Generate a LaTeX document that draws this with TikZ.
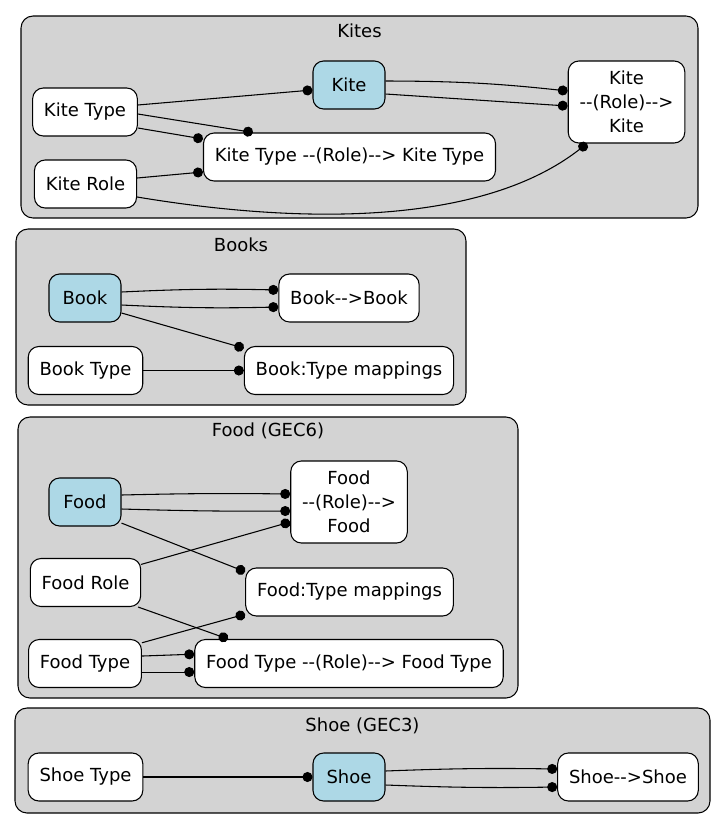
\documentclass[tikz,border=0pt]{standalone}
\usepackage{fontspec}
\newfontfamily\dvsans{DejaVu Sans}
\usepackage{xcolor}
\definecolor{Cluster}{HTML}{D3D3D3}
\definecolor{Entity}{HTML}{ADD8E6}
\usepackage{tikz}
\usetikzlibrary{arrows.meta,positioning}

\begin{document}
\begin{tikzpicture}[x=0.75pt,y=0.75pt,line width=0.8pt,
  every node/.style={font=\dvsans\fontsize{13.5}{18}\selectfont,align=center},
  cls/.style={draw,fill=Cluster,rounded corners=9pt},
  box/.style={draw,fill=white,rounded corners=8pt,minimum width=54pt,minimum height=36pt,inner xsep=8.5pt},
  ent/.style={box,fill=Entity},
  tall/.style={box,minimum height=61.5pt},
  lnk/.style={-{Circle[length=7.5pt]}}]
\useasboundingbox (0,0) rectangle (725,-829);
\draw[cls] (21,-16) rectangle (698,-218);
\draw[cls] (16,-229) rectangle (466,-405);
\draw[cls] (18,-417) rectangle (518,-698);
\draw[cls] (15,-708) rectangle (710,-813);
\node (lkites) at (359.5,-31) {Kites};
\node (lbooks) at (241,-245) {Books};
\node (lfood) at (268,-431) {Food (GEC6)};
\node (lshoe) at (362.5,-726) {Shoe (GEC3)};

\node[box] (kt) at (85,-112) {Kite Type};
\node[box] (kr) at (85.5,-184) {Kite Role};
\node[ent] (k) at (349,-85) {Kite};
\node[tall] (krk) at (626.5,-102) {Kite\\--(Role)-->\\Kite};
\node[box] (ktt) at (349.5,-157) {Kite Type --(Role)--> Kite Type};
\draw[lnk] ([yshift=5.25pt]kt.east) -- ([yshift=-3.75pt]k.west);
\draw[lnk] ([yshift=3pt]k.east) to[bend left=3] ([yshift=8.25pt]krk.west);
\draw[lnk] ([yshift=-6.75pt]k.east) -- ([yshift=-3pt]krk.west);
\draw[lnk] ([yshift=-1.5pt]kt.east) -- ([xshift=-72.4pt]ktt.north);
\draw[lnk] ([yshift=-12pt]kt.east) -- ([yshift=13.5pt]ktt.west);
\draw[lnk] ([yshift=4.5pt]kr.east) -- ([yshift=-11.25pt]ktt.west);
\draw[lnk] ([yshift=-9.75pt]kr.east) .. controls +(180,-30) and +(-100,-78) .. ([xshift=-29.6pt]krk.south);

\node[ent] (b) at (85,-298) {Book};
\node[box] (bb) at (349,-298) {Book-->Book};
\node[box] (bt) at (85.5,-370.5) {Book Type};
\node[box] (btm) at (349,-370.5) {Book:Type mappings};
\draw[lnk] ([yshift=4.5pt]b.east) to[bend left=2] ([yshift=6pt]bb.west);
\draw[lnk] ([yshift=-5.25pt]b.east) to[bend right=2] ([yshift=-6.75pt]bb.west);
\draw[lnk] ([yshift=-11.25pt]b.east) -- (btm.168);
\draw[lnk] (bt.east) -- (btm.west);

\node[ent] (f) at (85,-502) {Food};
\node[box] (fr) at (85.5,-582.5) {Food Role};
\node[box] (ft) at (85,-663.5) {Food Type};
\node[tall] (frf) at (349,-502) {Food\\--(Role)-->\\Food};
\node[box] (ftm) at (349.5,-592) {Food:Type mappings};
\node[box] (ftt) at (349,-663.5) {Food Type --(Role)--> Food Type};
\draw[lnk] ([yshift=5.25pt]f.east) to[bend left=1] ([yshift=6pt]frf.west);
\draw[lnk] ([yshift=-5.25pt]f.east) to[bend right=1] ([yshift=-6.75pt]frf.west);
\draw[lnk] (fr.18) -- ([yshift=-15pt]frf.west);
\draw[lnk] (f.-30) -- (ftm.169);
\draw[lnk] (ft.20) -- (ftm.192);
\draw[lnk] (fr.-25) -- ([xshift=-90.75pt]ftt.north);
\draw[lnk] ([yshift=5.6pt]ft.east) -- ([yshift=7pt]ftt.west);
\draw[lnk] ([yshift=-6.4pt]ft.east) -- ([yshift=-6.4pt]ftt.west);

\node[box] (st) at (85.5,-777) {Shoe Type};
\node[ent] (s) at (349,-777) {Shoe};
\node[box] (ss) at (628,-777) {Shoe-->Shoe};
\draw[lnk] (st.east) -- (s.west);
\draw[lnk] ([yshift=4.5pt]s.east) to[bend left=1.5] ([yshift=6pt]ss.west);
\draw[lnk] ([yshift=-6pt]s.east) to[bend right=1.5] ([yshift=-7.5pt]ss.west);
\end{tikzpicture}
\end{document}
